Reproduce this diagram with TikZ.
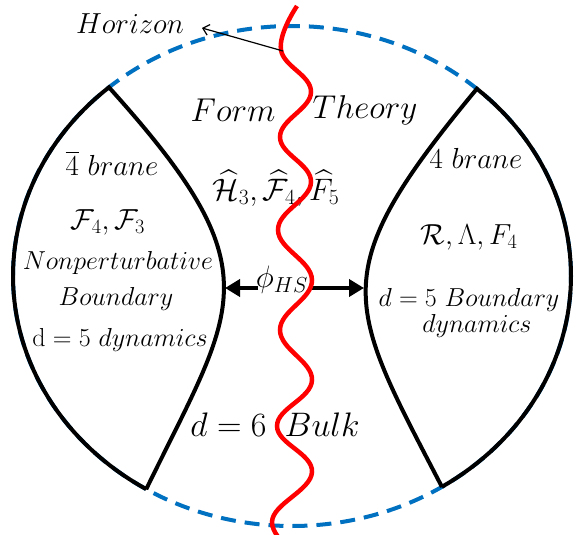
\RequirePackage{fix-cm}
\documentclass[tikz,border=0pt]{standalone}
\usepackage{amsmath,amssymb}
\usetikzlibrary{arrows.meta}
\definecolor{horblue}{RGB}{0,112,192}
\newcommand\fsz[1]{\fontsize{#1}{#1}\selectfont}
\begin{document}
\begin{tikzpicture}[x=1pt,y=-1pt,
  lbl/.style={inner sep=0pt, text=black},
  lens/.style={line width=4pt, draw=black, line join=miter, miter limit=4},
  wave/.style={line width=4.5pt, draw=red},
  horline/.style={line width=4pt, draw=horblue, dash pattern=on 15pt off 9pt},
  fatarrow/.style={line width=4pt, -{Triangle[length=15pt,width=17pt]}},
  thinarrow/.style={line width=1.2pt, -{Straight Barb[length=6pt,width=11pt]}}]
\useasboundingbox (0,0) rectangle (579,535);
\clip (0,0) rectangle (579,535);
% horizon (dashed ellipse)
\draw[horline] (292,276) ellipse [x radius=279pt, y radius=250pt];
% lens corners on the ellipse
\coordinate (LT) at ({292+279*cos(131)},{276-250*sin(131)});
\coordinate (LB) at ({292+279*cos(238.5)},{276-250*sin(238.5)});
\coordinate (RT) at ({292+279*cos(48.5)},{276-250*sin(48.5)});
\coordinate (RB) at ({292+279*cos(-57.5)},{276-250*sin(-57.5)});
% left lens
\draw[lens] (LT) -- plot[domain=131:238.5, samples=60] ({292+279*cos(\x)},{276-250*sin(\x)})
  -- (LB) .. controls (236.6,304) and (275.5,272) .. (LT) -- cycle;
% right lens
\draw[lens] (RT) -- plot[domain=48.5:-57.5, samples=60] ({292+279*cos(\x)},{276-250*sin(\x)})
  -- (RB) .. controls (346,302) and (323,274) .. (RT) -- cycle;
% labels
\node[lbl, font=\fsz{29}] (horizon) at (130,24) {$Horizon$};
\node[lbl, font=\fsz{33}] (form) at (233,110) {$Form$};
\node[lbl, font=\fsz{33}] (theory) at (365,110) {$Theory$};
\node[lbl, font=\fsz{29}] (abrane) at (112,163) {$\overline{4}\ brane$};
\node[lbl, font=\fsz{29}] (fl) at (108,222) {$\mathcal{F}_4,\mathcal{F}_3$};
\node[lbl, font=\fsz{26}] (np) at (118,263) {$Nonperturbative$};
\node[lbl, font=\fsz{26}] (bd) at (116,299) {$Boundary$};
\node[lbl, font=\fsz{26}] (dl) at (120,340) {$\mathrm{d}=5\ dynamics$};
\node[lbl, font=\fsz{31}] (hats) at (276,188) {$\widehat{\mathcal{H}}_3,\widehat{\mathcal{F}}_4,\widehat{F}_5$};
\node[lbl, font=\fsz{31}] (phi) at (282,280) {$\phi_{HS}$};
\node[lbl, font=\fsz{29}] (brane) at (476,158) {$4\ brane$};
\node[lbl, font=\fsz{29}] (rl) at (469,237) {$\mathcal{R},\Lambda,F_4$};
\node[lbl, font=\fsz{26}] (dr) at (469,300) {$d=5\ Boundary$};
\node[lbl, font=\fsz{26}] (dyn) at (477,326) {$dynamics$};
\node[lbl, font=\fsz{34}] (bulk) at (275,425) {$d=6\hspace{18pt}Bulk$};
% arrows
\coordinate (phiL) at (258,288);
\coordinate (tipL) at (225,288);
\coordinate (phiR) at (312,288);
\coordinate (tipR) at (364,288);
\draw[fatarrow] (phiL) -- (tipL);
\draw[fatarrow] (phiR) -- (tipR);
% red wave
\draw[wave] plot[smooth, tension=0.7] coordinates {(297,6) (281,50) (311,92) (280,137) (311,182) (278,230) (312,280) (280,330) (312,380) (277,426) (312,472) (272,522) (310,566)};
% horizon pointer
\coordinate (hA) at (283,51);
\coordinate (hB) at (202,28);
\draw[thinarrow] (hA) -- (hB);
\end{tikzpicture}
\end{document}
